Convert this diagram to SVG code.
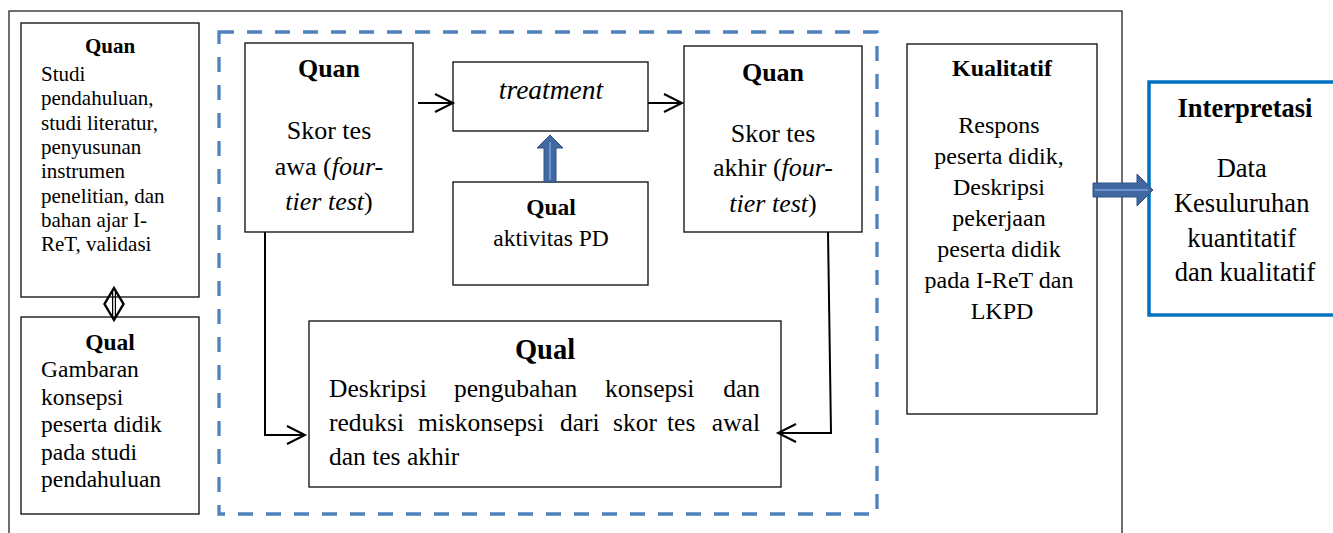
<svg xmlns="http://www.w3.org/2000/svg" width="1333" height="533" viewBox="0 0 1333 533">
<defs>
<style>
.box{fill:#fff;stroke:#1a1a1a;stroke-width:1.4}
.b{font-weight:bold}
.i{font-style:italic}
.c{text-anchor:middle}
.conn{fill:none;stroke:#000;stroke-width:2}
.blk{fill:#4168a0;stroke:#2f5286;stroke-width:1}
.stripe{stroke:#6a93cf;stroke-width:2;fill:none}
</style>
<marker id="open" markerUnits="userSpaceOnUse" markerWidth="24" markerHeight="24" refX="20" refY="11" orient="auto">
<path d="M2,2 L20,11 L2,20" fill="none" stroke="#000" stroke-width="2"/>
</marker>
</defs>
<rect width="1333" height="533" fill="#fff"/>
<rect x="9" y="11" width="1113" height="540" fill="none" stroke="#333" stroke-width="1.4"/>
<rect x="219" y="32" width="658" height="482" fill="none" stroke="#4f81bd" stroke-width="3.3" stroke-dasharray="15 13"/>

<g font-family="'Liberation Serif', serif" fill="#000">
<g id="quan-left">
<rect class="box" x="21" y="23" width="178" height="274"/>
<text class="b c" x="110" y="53" font-size="21">Quan</text>
<text font-size="21">
<tspan x="41" y="81">Studi</tspan>
<tspan x="41" y="105.3">pendahuluan,</tspan>
<tspan x="41" y="129.6">studi literatur,</tspan>
<tspan x="41" y="153.9">penyusunan</tspan>
<tspan x="41" y="178.2">instrumen</tspan>
<tspan x="41" y="202.5">penelitian, dan</tspan>
<tspan x="41" y="226.8">bahan ajar  I-</tspan>
<tspan x="41" y="251.1">ReT, validasi</tspan>
</text>
</g>

<g id="qual-left">
<rect class="box" x="21" y="317" width="178" height="197"/>
<text class="b c" x="110" y="350" font-size="23.5">Qual</text>
<text font-size="23.5">
<tspan x="41" y="377">Gambaran</tspan>
<tspan x="41" y="404.5">konsepsi</tspan>
<tspan x="41" y="432">peserta didik</tspan>
<tspan x="41" y="459.5">pada studi</tspan>
<tspan x="41" y="487">pendahuluan</tspan>
</text>
</g>

<g id="quan-awal">
<rect class="box" x="245" y="43" width="168" height="189"/>
<text class="b c" x="329" y="77" font-size="26">Quan</text>
<text class="c" x="329" y="139" font-size="26">Skor tes</text>
<text class="c" x="329" y="175" font-size="26">awa (<tspan class="i">four-</tspan></text>
<text class="c" x="329" y="210" font-size="26"><tspan class="i">tier test</tspan>)</text>
</g>

<g id="treatment">
<rect class="box" x="453" y="62" width="195" height="69"/>
<text class="i c" x="551" y="99" font-size="27.5">treatment</text>
</g>

<g id="qual-aktivitas">
<rect class="box" x="453" y="182" width="195" height="103"/>
<text class="b c" x="551" y="215" font-size="23.5">Qual</text>
<text class="c" x="551" y="246" font-size="23.5">aktivitas PD</text>
</g>

<g id="quan-akhir">
<rect class="box" x="684" y="46" width="178" height="186"/>
<text class="b c" x="773" y="81" font-size="26">Quan</text>
<text class="c" x="773" y="141.5" font-size="26">Skor tes</text>
<text class="c" x="773" y="176" font-size="26">akhir (<tspan class="i">four-</tspan></text>
<text class="c" x="773" y="211.5" font-size="26"><tspan class="i">tier test</tspan>)</text>
</g>

<g id="qual-deskripsi">
<rect class="box" x="309" y="321" width="472" height="166"/>
<text class="b c" x="545" y="359" font-size="28.5">Qual</text>
<text font-size="25.5" y="397">
<tspan x="329">Deskripsi</tspan><tspan x="454">pengubahan</tspan><tspan x="605">konsepsi</tspan><tspan x="760" text-anchor="end">dan</tspan>
</text>
<text font-size="25.5" y="431">
<tspan x="329">reduksi</tspan><tspan x="418">miskonsepsi</tspan><tspan x="560">dari</tspan><tspan x="613">skor</tspan><tspan x="667">tes</tspan><tspan x="760" text-anchor="end">awal</tspan>
</text>
<text font-size="25.5" x="329" y="465">dan tes akhir</text>
</g>

<g id="kualitatif">
<rect class="box" x="907" y="44" width="190" height="370"/>
<text class="b c" x="1002" y="76" font-size="24">Kualitatif</text>
<text class="c" font-size="24">
<tspan x="1002" y="133">Respons</tspan>
<tspan x="1002" y="164">peserta didik,</tspan>
<tspan x="1002" y="195">Deskripsi</tspan>
<tspan x="1002" y="226">pekerjaan</tspan>
<tspan x="1002" y="257">peserta didik</tspan>
<tspan x="1002" y="288">pada I-ReT dan</tspan>
<tspan x="1002" y="319">LKPD</tspan>
</text>
</g>

<g id="interpretasi">
<rect x="1149" y="82" width="200" height="233" fill="#fff" stroke="#0070c0" stroke-width="3.5"/>
<text class="b c" x="1245" y="117" font-size="26.5">Interpretasi</text>
<text class="c" font-size="26.5">
<tspan x="1245" y="177">Data</tspan>
<tspan x="1245" y="212">Kesuluruhan</tspan>
<tspan x="1245" y="247">kuantitatif</tspan>
<tspan x="1245" y="281">dan kualitatif</tspan>
</text>
</g>
</g>

<g id="connectors">
<line class="conn" x1="418" y1="103" x2="453" y2="103" marker-end="url(#open)"/>
<line class="conn" x1="648" y1="103" x2="682" y2="103" marker-end="url(#open)"/>
<polyline class="conn" points="265,232 265,435 305,435" marker-end="url(#open)"/>
<polyline class="conn" points="828,232 831,433 778,433" marker-end="url(#open)"/>
<polygon class="blk" points="544,182 544,148 537,148 550,135 563,148 556,148 556,182"/>
<line class="stripe" x1="550" y1="180" x2="550" y2="142"/>
<polygon class="blk" points="1093,183 1137,183 1137,174 1153,190 1137,206 1137,197 1093,197"/>
<line class="stripe" x1="1095" y1="190" x2="1148" y2="190"/>
<polygon points="114,288 123.5,304 114,320 104.5,304" fill="none" stroke="#000" stroke-width="2.4"/>
<line x1="112.6" y1="290" x2="112.6" y2="318" stroke="#000" stroke-width="1.2"/>
<line x1="115.4" y1="290" x2="115.4" y2="318" stroke="#000" stroke-width="1.2"/>
</g>
</svg>
